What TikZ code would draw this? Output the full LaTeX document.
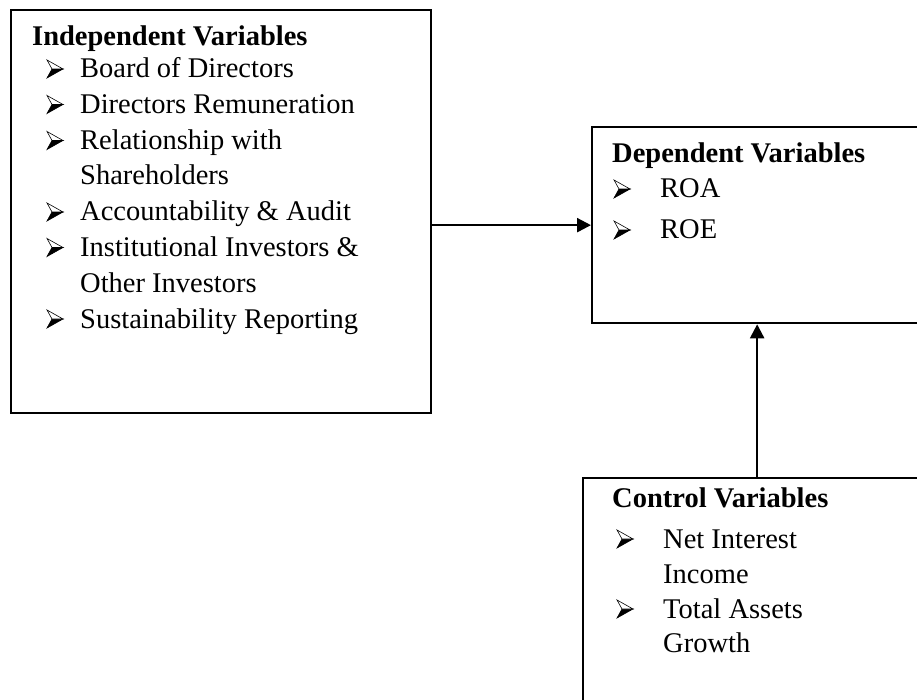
\documentclass[tikz,border=0pt]{standalone}
\usepackage{fontspec}
\setmainfont{Liberation Serif}
\usetikzlibrary{arrows.meta}
\begin{document}
\begin{tikzpicture}[x=1pt,y=-1pt,
  box/.style={draw,line width=2.3pt,inner sep=0pt,anchor=north west},
  txt/.style={anchor=base west,inner sep=0pt,font=\fontsize{28.5}{33}\selectfont},
  head/.style={anchor=base west,inner sep=0pt,font=\fontsize{28.5}{33}\selectfont\bfseries},
  conn/.style={line width=2.3pt,-{Triangle[length=14pt,width=14pt]}},
  bulletmark/.pic={
    \filldraw[line width=0.6pt,fill=black] (5,-9) -- (16,-9) -- (0,0) -- cycle;
    \filldraw[line width=0.6pt,fill=white] (0,-18) -- (16,-9) -- (5,-9) -- cycle;
  }]
\useasboundingbox (0,0) rectangle (917,700);
\clip (0,0) rectangle (917,700);

% boxes
\node[box,minimum width=420pt,minimum height=403pt] (indep) at (10,9) {};
\node[box,minimum width=339pt,minimum height=196pt] (dep) at (591,126) {};
\node[box,minimum width=348pt,minimum height=260pt] (ctrl) at (582,477) {};

% independent variables
\node[head] (ih) at (32,46) {Independent Variables};
\node[txt] (i1) at (80,78) {Board of Directors};
\node[txt] (i2) at (80,113.5) {Directors Remuneration};
\node[txt] (i3) at (80,149.5) {Relationship with};
\node[txt] (i4) at (80,185) {Shareholders};
\node[txt] (i5) at (80,221) {Accountability \& Audit};
\node[txt] (i6) at (80,256.5) {Institutional Investors \&};
\node[txt] (i7) at (80,292) {Other Investors};
\node[txt] (i8) at (80,328) {Sustainability Reporting};
\foreach \yy in {78,113.5,149.5,221,256.5,328}
  \pic at (47,\yy) {bulletmark};

% dependent variables
\node[head] (dh) at (612,163) {Dependent Variables};
\node[txt] (d1) at (660,198) {ROA};
\node[txt] (d2) at (660,239) {ROE};
\foreach \yy in {198,239}
  \pic at (614,\yy) {bulletmark};

% control variables
\node[head] (ch) at (612,507) {Control Variables};
\node[txt] (c1) at (663,548) {Net Interest};
\node[txt] (c2) at (663,583) {Income};
\node[txt] (c3) at (663,618) {Total Assets};
\node[txt] (c4) at (663,652) {Growth};
\foreach \yy in {548,618}
  \pic at (617,\yy) {bulletmark};

% connectors
\draw[conn] ([yshift=-13.5pt]indep.east) -- ([yshift=-13.5pt]indep.east -| dep.west);
\draw[conn] (ctrl.north) -- (ctrl.north |- dep.south);
\end{tikzpicture}
\end{document}
